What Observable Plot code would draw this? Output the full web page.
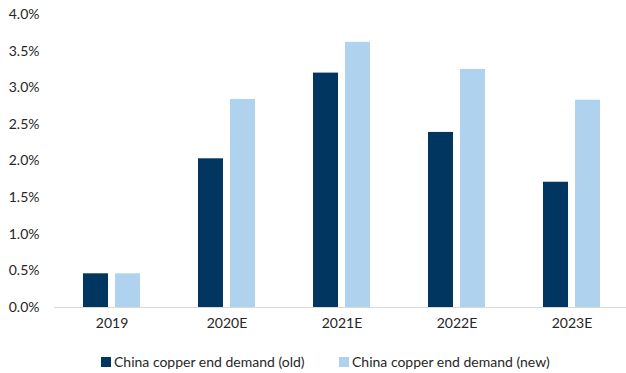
<!DOCTYPE html>
<html>
<head>
<meta charset="utf-8">
<script src="https://cdn.jsdelivr.net/npm/d3@7"></script>
<script src="https://cdn.jsdelivr.net/npm/@observablehq/plot@0.6"></script>
<style>
  html, body { margin: 0; padding: 0; background: #fff; }
  body { width: 626px; height: 373px; overflow: hidden; font-family: Lato, "Noto Sans", sans-serif; }
  #chart svg { display: block; overflow: hidden; }
  .legend { display: flex; align-items: center; margin-left: 101px; margin-top: 13px; font-size: 14px; color: #262626; }
  .legend .item { display: flex; align-items: center; }
  .legend .item:first-child { width: 238px; }
  .legend .sw { width: 10px; height: 10px; margin-right: 3px; }
</style>
</head>
<body>
<div id="chart"></div>
<div class="legend" id="legend"></div>
<script>
// Year-on-year growth of China copper end demand, old vs new estimates
const years = ["2019", "2020E", "2021E", "2022E", "2023E"];
const oldDemand = [0.0046, 0.0203, 0.0320, 0.0239, 0.0171];
const newDemand = [0.0046, 0.0284, 0.0362, 0.0325, 0.0283];
const seriesNames = ["China copper end demand (old)", "China copper end demand (new)"];
const seriesColors = ["#00365f", "#afd3ef"];

const rows = years.flatMap((year, i) => [
  {year, series: seriesNames[0], value: oldDemand[i]},
  {year, series: seriesNames[1], value: newDemand[i]}
]);

const chart = Plot.plot({
  width: 626,
  height: 340,
  marginTop: 14,
  marginBottom: 33,
  marginLeft: 53,
  marginRight: 0,
  style: {fontFamily: "Lato, 'Noto Sans', sans-serif", fontSize: "14px", color: "#262626"},
  fx: {domain: years, range: [53, 630.5], paddingInner: 0, paddingOuter: 0, label: null},
  x: {domain: seriesNames, paddingInner: 0.22, paddingOuter: 0.86, axis: null},
  y: {domain: [0, 0.04], label: null},
  color: {domain: seriesNames, range: seriesColors},
  marks: [
    Plot.axisY({ticks: d3.range(0, 0.0401, 0.005), tickFormat: d3.format(".1%"), tickSize: 0, tickPadding: 15, label: null}),
    Plot.axisFx({anchor: "bottom", tickSize: 0, tickPadding: 11, label: null}),
    Plot.barY(rows, {fx: "year", x: "series", y: "value", fill: "series"}),
    Plot.ruleY([0], {stroke: "#d9d9d9", strokeWidth: 1.2})
  ]
});
document.getElementById("chart").appendChild(chart);

const legend = d3.select("#legend");
seriesNames.forEach((name, i) => {
  const item = legend.append("div").attr("class", "item");
  item.append("div").attr("class", "sw").style("background", seriesColors[i]);
  item.append("span").text(name);
});
</script>
</body>
</html>
